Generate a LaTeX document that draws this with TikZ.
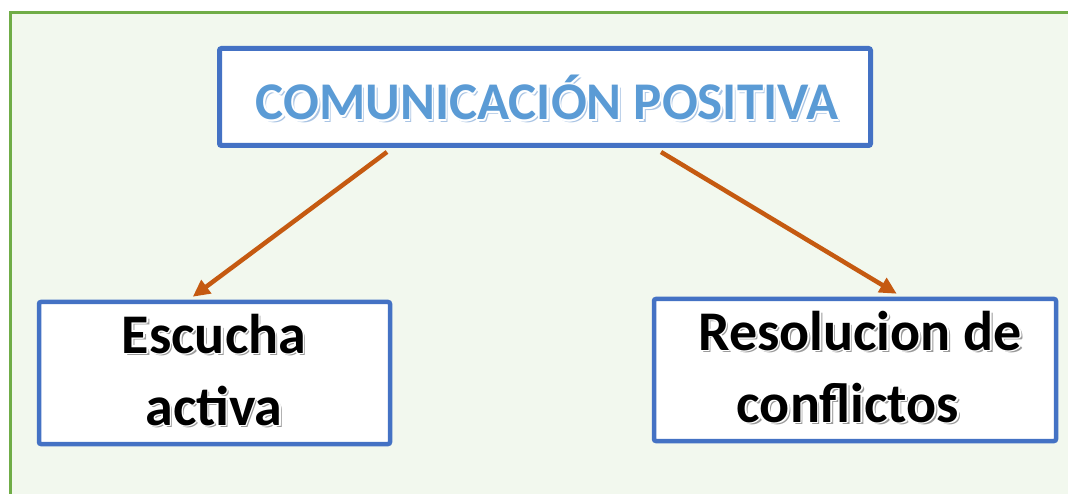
\documentclass[tikz,border=0pt]{standalone}
\usepackage{fontspec}
\setmainfont{Carlito}
\usetikzlibrary{arrows.meta,calc}
\definecolor{frameG}{HTML}{70AD47}
\definecolor{fillG}{HTML}{F2F8EE}
\definecolor{boxB}{HTML}{4472C4}
\definecolor{titleB}{HTML}{5B9BD5}
\definecolor{titleSh}{HTML}{A9C4E4}
\definecolor{arrowO}{HTML}{C55A11}
\definecolor{shGray}{HTML}{9A9A9A}
\newcommand\fancytext[5]{%
  \node[txt,text=#5] at ([shift={(2.5,2.5)}]#2) {#3};
  \foreach \dx/\dy in {1.5/0,-1.5/0,0/1.5,0/-1.5,1.1/1.1,-1.1/1.1,1.1/-1.1,-1.1/-1.1}
    {\node[txt,text=white] at ([shift={(\dx,\dy)}]#2) {#3};}
  \node[txt,text=#4] (#1) at (#2) {#3};
}
\begin{document}
\begin{tikzpicture}[x=1pt,y=-1pt,
  txt/.style={anchor=base,inner sep=0pt,font=\fontsize{56}{60}\selectfont\bfseries},
  ttl/.style={anchor=base,inner sep=0pt,font=\fontsize{53}{60}\selectfont\bfseries},
  box/.style={draw=boxB,fill=white,rounded corners=2pt,inner sep=0pt},
  conn/.style={draw=arrowO,line width=4.5pt,-{Triangle[length=17pt,width=16pt]}}]
\useasboundingbox (0,0) rectangle (1068,494);
\fill[white] (0,0) rectangle (1068,494);
\path[fill=fillG,draw=frameG,line width=3pt] (10.5,12.5) rectangle (1090,520);
\node[box,line width=5pt,minimum width=651pt,minimum height=97pt] (top) at (545,97) {};
\node[box,line width=4.5pt,minimum width=351pt,minimum height=142pt] (left) at (214.5,373) {};
\node[box,line width=4.5pt,minimum width=402pt,minimum height=142pt] (right) at (855,370) {};
% title text
\node[ttl,text=titleSh] at (549.5,122.5) {COMUNICACIÓN POSITIVA};
\foreach \dx/\dy in {1.5/0,-1.5/0,0/1.5,0/-1.5,1.1/1.1,-1.1/1.1,1.1/-1.1,-1.1/-1.1}
  {\node[ttl,text=white] at (547+\dx,120+\dy) {COMUNICACIÓN POSITIVA};}
\node[ttl,text=titleB] (title) at (547,120) {COMUNICACIÓN POSITIVA};
\fancytext{l1}{214,353}{Escucha}{black}{shGray}
\fancytext{l2}{214,425}{activa}{black}{shGray}
\fancytext{r1}{860,350}{Resolucion de}{black}{shGray}
\fancytext{r2}{848,422}{conflictos}{black}{shGray}
\coordinate (a1s) at ([xshift=170pt,yshift=-4pt]top.south west);
\coordinate (a1e) at ([xshift=156pt,yshift=3pt]left.north west);
\coordinate (a2s) at ([xshift=444pt,yshift=-4pt]top.south west);
\coordinate (a2e) at ([xshift=245pt,yshift=3pt]right.north west);
\draw[conn] (a1s) -- (a1e);
\draw[conn] (a2s) -- (a2e);
\end{tikzpicture}
\end{document}
